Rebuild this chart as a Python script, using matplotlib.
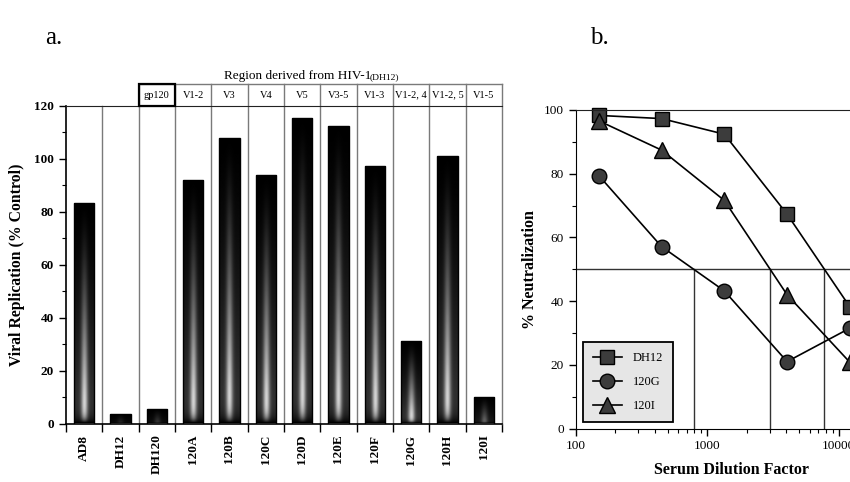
import matplotlib.pyplot as plt
import matplotlib.patches as mpatches
from matplotlib.ticker import MultipleLocator, FixedLocator, NullFormatter
import numpy as np

plt.rcParams['font.family'] = ['Liberation Serif', 'DejaVu Serif']

# panel a data
viruses = ['AD8', 'DH12', 'DH120', '120A', '120B', '120C', '120D',
           '120E', '120F', '120G', '120H', '120I']
replication = [83.5, 3.5, 5.3, 92, 108, 93.8, 115.3, 112.4, 97.4, 31, 101, 10]
regions = ['gp120', 'V1-2', 'V3', 'V4', 'V5', 'V3-5', 'V1-3',
           'V1-2, 4', 'V1-2, 5', 'V1-5']

# panel b data
dilution = [150, 450, 1350, 4050, 12150]
neut_dh12 = [98.3, 97.3, 92.4, 67.3, 38.2]
neut_120g = [79.4, 57.1, 43.2, 21.0, 31.5]
neut_120i = [96.6, 87.4, 71.6, 42.0, 20.8]

W, H = 850, 482
fig = plt.figure(figsize=(8.5, 4.82), dpi=100)

def fx(px):
    return px / W

def fy(py):
    return (H - py) / H

# ---------------- panel a ----------------
ax = fig.add_axes([fx(66), fy(423.5), fx(502) - fx(66), fy(106) - fy(423.5)])
n = len(viruses)

def bar_gradient(h, ny=300, nx=60):
    s = np.linspace(-1, 1, nx)
    t = np.linspace(0, 1, ny)[:, None]
    v = (1 - t) ** 1.4 * (1 - np.exp(-t / 0.03))
    hz = (0.22 + 0.78 * np.exp(-(s / 0.32) ** 2))[None, :]
    return v * hz * min(1.0, h / 22.0)

bw = 0.56
bars = ax.bar(range(n), replication, width=bw, facecolor='none',
              edgecolor='black', linewidth=1.0, zorder=3)
for i, (b, h) in enumerate(zip(bars, replication)):
    im = ax.imshow(bar_gradient(h), cmap='gray', vmin=0, vmax=1,
                   origin='lower', aspect='auto', interpolation='bilinear',
                   extent=[i - bw / 2, i + bw / 2, 0, h], zorder=2)
    im.set_clip_path(b)
ax.set_xlim(-0.5, n - 0.5)
ax.set_ylim(0, 120)

# category separators and header row
hdr_top = 120 + (106 - 84) / (423.5 - 106) * 120
for k in range(1, n):
    top = hdr_top if k >= 2 else 120
    ax.plot([k - 0.5, k - 0.5], [0, top], color='#7a7a7a', lw=1.0,
            clip_on=False, zorder=1)
ax.plot([1.5, n - 0.5], [hdr_top, hdr_top], color='#7a7a7a', lw=1.0,
        clip_on=False)
ax.plot([n - 0.5, n - 0.5], [0, hdr_top], color='#7a7a7a', lw=1.0,
        clip_on=False)
for j, lab in enumerate(regions):
    ax.text(j + 2, (120 + hdr_top) / 2, lab, ha='center', va='center',
            fontsize=7.5, clip_on=False)
ax.add_patch(mpatches.Rectangle((1.5, 120), 1.0, hdr_top - 120, fill=False,
                                edgecolor='black', lw=1.6, clip_on=False,
                                zorder=5))

fig.text(fx(224), fy(79), 'Region derived from HIV-1', fontsize=9.5,
         va='baseline')
fig.text(fx(370), fy(79), '(DH12)', fontsize=6.8, va='baseline')

ax.spines['right'].set_visible(False)
ax.spines['top'].set_color('#222222')
ax.spines['left'].set_linewidth(1.2)
ax.spines['bottom'].set_linewidth(1.2)
ax.yaxis.set_major_locator(MultipleLocator(20))
ax.yaxis.set_minor_locator(MultipleLocator(10))
ax.tick_params(axis='y', direction='out', length=5, width=1, labelsize=9.5)
ax.tick_params(axis='y', which='minor', length=3, width=0.8)
for lab in ax.get_yticklabels():
    lab.set_fontweight('bold')
ax.set_xticks(np.arange(-0.5, n, 1.0))
ax.set_xticklabels([])
ax.set_xticks(range(n), minor=True)
ax.set_xticklabels(viruses, minor=True, rotation=90, fontsize=9.5,
                   fontweight='bold')
ax.tick_params(axis='x', which='major', direction='out', length=6, width=1)
ax.tick_params(axis='x', which='minor', length=0, pad=8)
ax.set_ylabel('Viral Replication (% Control)', fontsize=11.3,
              fontweight='bold', labelpad=7)

fig.text(fx(45), fy(38), 'a.', fontsize=18, va='center')
fig.text(fx(590), fy(38), 'b.', fontsize=18, va='center')

# ---------------- panel b ----------------
decade = 131.5
x_right = 900
bx = fig.add_axes([fx(575.7), fy(428.5), fx(x_right) - fx(575.7),
                   fy(110) - fy(428.5)])
bx.set_xscale('log')
bx.set_xlim(100, 10 ** (2 + (x_right - 575.7) / decade))
bx.set_ylim(0, 100)

# 50% line and titer lines
bx.axhline(50, color='#333333', lw=1.0, zorder=1)
for ys in (neut_dh12, neut_120g, neut_120i):
    yr = np.array(ys)[::-1]
    xr = np.log10(np.array(dilution))[::-1]
    titer = 10 ** np.interp(50, yr, xr)
    bx.plot([titer, titer], [0, 50], color='#333333', lw=1.0, zorder=1)

mk = dict(color='black', lw=1.2, markerfacecolor='#3c3c3c',
          markeredgecolor='black', markeredgewidth=1.0)
bx.plot(dilution, neut_dh12, marker='s', markersize=10, label='DH12',
        clip_on=False, **mk)
bx.plot(dilution, neut_120g, marker='o', markersize=10.5, label='120G',
        clip_on=False, **mk)
bx.plot(dilution, neut_120i, marker='^', markersize=11, label='120I',
        clip_on=False, **mk)

bx.spines['right'].set_visible(False)
bx.spines['top'].set_color('#222222')
bx.yaxis.set_major_locator(MultipleLocator(20))
bx.yaxis.set_minor_locator(MultipleLocator(10))
bx.xaxis.set_major_locator(FixedLocator([100, 1000, 10000]))
bx.xaxis.set_major_formatter(plt.FuncFormatter(lambda v, p: '%d' % v))
bx.xaxis.set_minor_formatter(NullFormatter())
bx.tick_params(direction='out', length=5, width=1, labelsize=9.5)
bx.tick_params(which='minor', direction='out', length=3, width=0.8)
bx.set_ylabel('% Neutralization', fontsize=11.5, fontweight='bold',
              labelpad=4)
fig.text(fx(732), fy(470), 'Serum Dilution Factor', fontsize=11.5,
         fontweight='bold', ha='center', va='center')

leg = bx.legend(loc='lower left', bbox_to_anchor=(fx(583), fy(422)),
                bbox_transform=fig.transFigure, borderaxespad=0,
                fontsize=9, handlelength=2.3, labelspacing=0.95,
                borderpad=0.8, handletextpad=0.9, fancybox=False,
                framealpha=1, facecolor='#e6e6e6', edgecolor='black')
leg.get_frame().set_linewidth(1.3)

fig.savefig('out.png', dpi=100)
